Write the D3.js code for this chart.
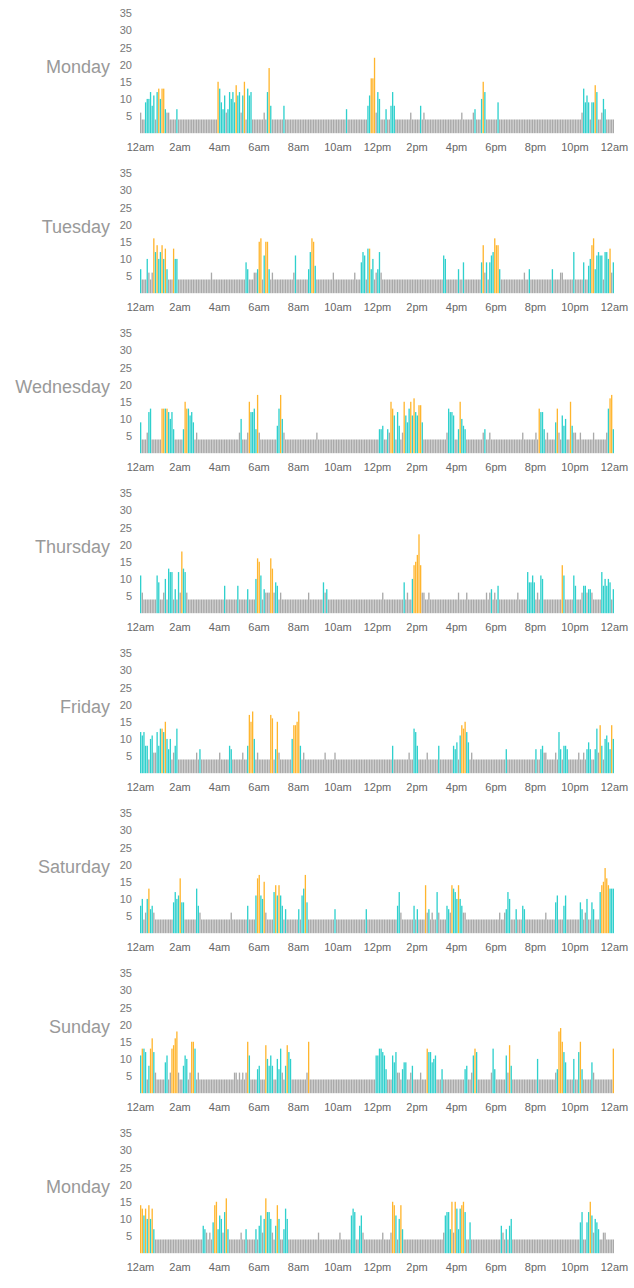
<!DOCTYPE html>
<html>
<head>
<meta charset="utf-8">
<script src="https://cdn.jsdelivr.net/npm/d3@7"></script>
<style>
  html, body { margin: 0; padding: 0; background: #fff; }
  svg { display: block; font-family: "Liberation Sans", Arial, sans-serif; }
</style>
</head>
<body>
<svg id="chart" width="634" height="1288"></svg>
<script>
// ---------- data ----------
const dayNames = ["Monday", "Tuesday", "Wednesday", "Thursday", "Friday", "Saturday", "Sunday", "Monday"];
const hourTickLabels = ["12am", "2am", "4am", "6am", "8am", "10am", "12pm", "2pm", "4pm", "6pm", "8pm", "10pm", "12am"];
const hourTickValues = [0, 2, 4, 6, 8, 10, 12, 14, 16, 18, 20, 22, 24];
const yTickValues = [5, 10, 15, 20, 25, 30, 35];
const slotsPerDay = 288;          // 5-minute slots
const restLevel = 4;              // level of the plain grey bars
// spikes: [slot, value, kind]  kind: g = grey, c = cyan, o = orange
const mondaySpikes = [[0,6,'g'],[3,9,'c'],[4,10,'c'],[5,10,'c'],[6,12,'c'],[7,8,'c'],[8,11,'c'],[10,12,'c'],[11,13,'o'],[12,10,'c'],[13,13,'o'],[14,13,'o'],[15,7,'c'],[16,6,'g'],[17,6,'g'],[22,7,'c'],
[47,15,'o'],[48,13,'c'],[49,9,'c'],[50,7,'c'],[51,11,'c'],[52,6,'g'],[53,7,'c'],[54,12,'c'],[55,10,'c'],[56,12,'c'],[57,9,'c'],[58,14,'o'],[59,11,'c'],[60,12,'c'],[61,6,'g'],[62,11,'c'],[63,15,'o'],[65,13,'c'],[66,11,'c'],[67,12,'c'],
[75,6,'g'],[77,12,'c'],[78,19,'o'],[79,8,'c'],[87,8,'c'],
[125,7,'c'],[138,8,'c'],[139,11,'c'],[140,16,'o'],[141,16,'o'],[142,22,'o'],[143,6,'g'],[144,12,'c'],[145,10,'c'],[149,7,'c'],[152,8,'c'],[153,12,'c'],[154,8,'c'],[164,6,'g'],[170,8,'c'],[172,6,'g'],[195,6,'g'],[202,6,'g'],[203,7,'c'],[207,10,'c'],[208,15,'o'],[209,12,'c'],[217,9,'c'],
[268,6,'g'],[269,13,'c'],[270,9,'c'],[271,11,'c'],[272,9,'c'],[274,9,'c'],[275,9,'c'],[276,14,'o'],[277,12,'c'],[280,6,'g'],[281,10,'c'],[282,7,'c']];
const tuesdaySpikes = [[0,7,'c'],[4,10,'c'],[5,6,'g'],[7,6,'g'],[8,16,'o'],[9,12,'c'],[10,14,'o'],[11,10,'c'],[12,12,'c'],[13,14,'o'],[14,10,'c'],[15,13,'o'],[16,7,'c'],[20,13,'o'],[21,10,'c'],[22,10,'c'],[43,6,'g'],
[64,9,'c'],[65,7,'c'],[69,6,'g'],[70,6,'g'],[71,7,'c'],[72,15,'o'],[73,16,'o'],[75,11,'c'],[76,15,'o'],[77,15,'o'],[78,7,'c'],[80,6,'g'],[93,6,'g'],[94,11,'c'],[102,7,'c'],[103,12,'c'],[104,16,'o'],[105,15,'o'],[106,8,'c'],[117,6,'g'],[130,6,'g'],[134,9,'c'],[135,12,'c'],[136,11,'c'],[138,13,'c'],[139,13,'o'],[140,7,'c'],[141,10,'c'],[143,6,'g'],[144,7,'c'],[145,12,'c'],[146,6,'g'],
[184,11,'c'],[185,10,'c'],[193,7,'c'],[196,9,'c'],[207,9,'c'],[208,14,'o'],[209,6,'g'],[210,9,'c'],[212,9,'c'],[213,11,'c'],[214,12,'c'],[215,16,'o'],[216,14,'o'],[217,14,'o'],[218,7,'c'],[233,6,'g'],[236,7,'c'],[250,7,'c'],[255,6,'g'],[256,6,'g'],[263,12,'c'],[269,9,'c'],[272,8,'c'],[273,10,'c'],[274,14,'o'],[275,16,'o'],[276,7,'c'],[277,11,'c'],[278,12,'c'],[279,11,'c'],[280,11,'c'],[282,12,'c'],[283,12,'c'],[284,10,'c'],[285,13,'o'],[286,6,'g'],[287,9,'c']];
const wednesdaySpikes = [[0,9,'c'],[4,6,'g'],[5,12,'c'],[6,13,'c'],[13,13,'o'],[14,13,'o'],[15,13,'c'],[16,13,'o'],[17,12,'c'],[18,10,'c'],[19,12,'c'],[20,7,'c'],[26,7,'c'],[27,15,'o'],[28,13,'o'],[29,13,'c'],[30,11,'c'],[31,12,'c'],[32,9,'c'],[34,6,'g'],
[60,6,'g'],[61,10,'c'],[65,6,'g'],[66,15,'o'],[67,12,'c'],[68,12,'c'],[69,13,'c'],[70,7,'c'],[71,17,'o'],[72,6,'g'],[83,8,'c'],[84,13,'c'],[85,17,'o'],[86,10,'c'],[87,6,'g'],[107,6,'g'],
[145,7,'c'],[146,7,'c'],[147,8,'c'],[150,7,'c'],[151,6,'g'],[152,15,'o'],[153,13,'o'],[154,11,'c'],[156,12,'c'],[157,8,'c'],[159,6,'g'],[160,15,'o'],[161,11,'c'],[162,9,'c'],[163,13,'c'],[164,15,'o'],[165,11,'c'],[166,16,'o'],[167,12,'c'],[168,11,'c'],[169,14,'o'],[170,14,'o'],[171,9,'c'],
[186,6,'g'],[187,13,'c'],[188,12,'c'],[189,12,'c'],[190,11,'c'],[193,7,'c'],[194,15,'o'],[195,10,'c'],[196,8,'c'],[197,7,'c'],[208,6,'g'],[209,7,'c'],[212,6,'g'],[232,6,'g'],[240,6,'g'],[242,13,'o'],[243,12,'c'],[244,12,'c'],[245,7,'c'],[247,6,'g'],[252,9,'c'],[253,13,'o'],[254,6,'g'],[256,11,'c'],[257,8,'c'],[258,10,'c'],[261,15,'o'],[262,8,'c'],[263,6,'g'],[264,6,'g'],[267,6,'g'],[275,6,'g'],[283,6,'g'],[284,13,'c'],[285,16,'o'],[286,17,'o'],[287,7,'c']];
const thursdaySpikes = [[0,11,'c'],[1,6,'g'],[10,11,'c'],[11,9,'c'],[14,6,'g'],[15,10,'c'],[17,13,'c'],[18,12,'c'],[19,12,'c'],[21,7,'c'],[23,12,'c'],[24,6,'g'],[25,18,'o'],[26,13,'c'],[27,12,'c'],[28,6,'g'],
[51,8,'c'],[59,8,'c'],[65,7,'c'],[70,10,'c'],[71,16,'o'],[72,15,'o'],[73,11,'c'],[75,7,'c'],[76,6,'g'],[77,6,'g'],[78,6,'g'],[79,16,'o'],[80,13,'o'],[81,6,'g'],[82,9,'c'],[83,8,'c'],[85,6,'g'],[102,6,'g'],[111,9,'c'],[112,6,'g'],[113,7,'c'],[147,6,'g'],
[160,9,'c'],[162,6,'g'],[165,10,'c'],[166,14,'o'],[167,15,'o'],[168,17,'o'],[169,23,'o'],[170,14,'o'],[171,6,'g'],[172,6,'g'],[175,6,'g'],[193,6,'g'],[198,6,'g'],[210,6,'g'],[212,6,'g'],[213,7,'c'],[215,6,'g'],[217,8,'c'],[229,6,'g'],
[235,12,'c'],[236,9,'c'],[237,9,'c'],[238,11,'c'],[239,9,'c'],[241,6,'g'],[243,11,'c'],[244,10,'c'],[256,14,'o'],[257,11,'c'],[263,11,'c'],[264,8,'c'],[268,6,'g'],[269,8,'c'],[270,8,'c'],[271,6,'g'],[272,7,'c'],[273,7,'c'],[274,6,'g'],[280,12,'c'],[281,8,'c'],[282,10,'c'],[283,8,'c'],[284,10,'c'],[285,9,'c'],[287,7,'c']];
const fridaySpikes = [[0,12,'c'],[1,11,'c'],[2,12,'c'],[3,8,'c'],[4,8,'c'],[6,10,'c'],[7,11,'c'],[8,6,'g'],[9,6,'g'],[10,12,'c'],[11,8,'c'],[12,13,'c'],[13,13,'o'],[14,12,'c'],[15,15,'o'],[16,10,'c'],[17,7,'c'],[18,10,'c'],[20,6,'g'],[21,8,'c'],[22,13,'c'],[34,6,'g'],[36,7,'c'],[48,6,'g'],[54,8,'c'],[55,7,'c'],[62,6,'g'],
[65,8,'c'],[66,17,'o'],[67,15,'o'],[68,18,'o'],[69,10,'c'],[71,6,'g'],[79,17,'o'],[80,16,'o'],[82,7,'c'],[83,15,'o'],[84,6,'g'],[92,10,'c'],[93,14,'o'],[94,14,'o'],[95,15,'o'],[96,18,'o'],[97,8,'c'],[99,6,'g'],[112,6,'g'],[118,6,'g'],
[153,8,'c'],[163,6,'g'],[166,13,'c'],[167,12,'c'],[168,8,'c'],[174,6,'g'],[181,8,'c'],[190,8,'c'],[191,7,'c'],[192,9,'c'],[194,11,'c'],[195,14,'o'],[196,13,'o'],[197,15,'o'],[198,12,'c'],[199,9,'c'],[201,6,'g'],[222,7,'c'],
[240,7,'c'],[243,7,'c'],[244,8,'c'],[245,6,'g'],[246,6,'g'],[252,6,'g'],[254,12,'c'],[255,7,'c'],[257,8,'c'],[258,8,'c'],[259,7,'c'],[266,6,'g'],[269,6,'g'],[271,7,'c'],[272,9,'c'],[273,7,'c'],[276,7,'c'],[277,13,'c'],[278,6,'g'],[279,14,'o'],[280,8,'c'],[282,10,'c'],[283,11,'c'],[284,9,'c'],[285,7,'c'],[286,14,'o'],[287,10,'c']];
const saturdaySpikes = [[0,8,'c'],[1,10,'c'],[3,6,'g'],[4,10,'c'],[5,13,'o'],[6,7,'c'],[7,8,'c'],[8,6,'g'],[20,9,'c'],[21,12,'c'],[22,10,'c'],[23,11,'c'],[24,16,'o'],[25,9,'c'],[26,9,'c'],[34,13,'c'],[35,8,'c'],[36,6,'g'],[55,6,'g'],
[65,8,'c'],[70,11,'c'],[71,16,'o'],[72,17,'o'],[73,11,'c'],[74,10,'c'],[75,15,'o'],[76,6,'g'],[81,12,'c'],[82,14,'o'],[83,11,'c'],[84,14,'o'],[85,11,'c'],[86,8,'c'],[88,7,'c'],[96,7,'c'],[98,11,'c'],[99,13,'c'],[100,17,'o'],[101,9,'c'],[118,7,'c'],[137,7,'c'],
[156,8,'c'],[157,12,'c'],[158,6,'g'],[166,8,'c'],[168,7,'c'],[173,14,'o'],[174,6,'g'],[175,7,'c'],[177,6,'g'],[180,12,'c'],[181,6,'g'],[186,8,'c'],[187,7,'c'],[188,6,'g'],[189,14,'o'],[190,13,'c'],[191,12,'c'],[192,10,'c'],[193,14,'o'],[194,10,'c'],[195,8,'c'],[196,6,'g'],[197,6,'g'],
[218,6,'g'],[221,6,'g'],[222,7,'c'],[223,12,'c'],[224,10,'c'],[228,7,'c'],[232,8,'c'],[233,7,'c'],[246,6,'g'],[252,9,'c'],[253,11,'c'],[257,8,'c'],[258,11,'c'],[267,9,'c'],[268,7,'c'],[270,6,'g'],[271,10,'c'],[274,9,'c'],[275,7,'c'],[279,12,'c'],[280,14,'o'],[281,15,'o'],[282,19,'o'],[283,16,'o'],[284,14,'o'],[285,13,'c'],[286,13,'c'],[287,13,'c']];
const sundaySpikes = [[0,11,'c'],[1,13,'o'],[2,13,'c'],[3,12,'c'],[5,8,'c'],[6,13,'o'],[7,16,'o'],[8,12,'c'],[9,6,'g'],[15,9,'c'],[16,11,'c'],[18,6,'g'],[19,13,'o'],[20,14,'o'],[21,16,'o'],[22,18,'o'],[23,6,'g'],[26,8,'c'],[27,11,'c'],[28,10,'c'],[30,6,'g'],[31,15,'o'],[32,15,'o'],[33,13,'c'],[35,6,'g'],
[57,6,'g'],[58,6,'g'],[60,6,'g'],[62,6,'g'],[64,6,'g'],[65,15,'o'],[66,11,'c'],[71,7,'c'],[72,8,'c'],[76,14,'o'],[77,10,'c'],[78,8,'c'],[79,11,'c'],[80,8,'c'],[83,10,'c'],[84,7,'c'],[85,13,'c'],[86,6,'g'],[88,8,'c'],[89,14,'o'],[90,12,'c'],[91,10,'c'],[101,6,'g'],[102,15,'o'],
[143,11,'c'],[144,11,'c'],[145,13,'c'],[146,13,'c'],[147,12,'c'],[148,11,'c'],[149,7,'c'],[153,11,'c'],[154,9,'c'],[155,12,'c'],[156,6,'g'],[157,6,'g'],[159,7,'c'],[160,9,'c'],[161,9,'c'],[164,6,'g'],[165,8,'c'],[170,6,'g'],[174,13,'o'],[175,12,'c'],[176,12,'c'],[177,9,'c'],[178,10,'c'],[179,11,'c'],[183,7,'c'],
[197,7,'c'],[198,8,'c'],[201,6,'g'],[202,11,'c'],[203,13,'o'],[204,12,'c'],[213,6,'g'],[214,13,'c'],[215,7,'c'],[222,11,'c'],[223,6,'g'],[224,14,'o'],[225,8,'c'],[241,10,'c'],[252,6,'g'],[253,7,'c'],[254,18,'o'],[255,19,'o'],[256,15,'o'],[257,12,'c'],[258,9,'c'],[263,10,'c'],[266,12,'c'],[267,15,'o'],[268,7,'c'],[274,9,'c'],[275,6,'g'],[287,13,'o']];
const monday2Spikes = [[0,14,'o'],[1,13,'o'],[2,11,'c'],[3,13,'o'],[4,10,'c'],[5,14,'o'],[6,10,'c'],[7,13,'o'],[8,7,'c'],
[38,8,'c'],[39,7,'c'],[40,6,'g'],[42,6,'g'],[44,9,'c'],[45,14,'o'],[46,15,'o'],[47,7,'c'],[48,11,'c'],[49,10,'c'],[50,6,'g'],[51,12,'c'],[52,16,'o'],[53,7,'c'],[61,6,'g'],[64,7,'c'],[70,7,'c'],[72,8,'c'],[73,11,'c'],[74,6,'g'],[75,10,'c'],[76,16,'o'],[77,12,'c'],[78,12,'c'],[79,10,'c'],[80,6,'g'],[82,8,'c'],[83,14,'o'],[84,10,'c'],[87,7,'c'],[88,13,'c'],[89,10,'c'],
[108,6,'g'],[121,6,'g'],[128,11,'c'],[129,13,'c'],[130,12,'c'],[133,8,'c'],[134,11,'c'],[135,6,'g'],[147,6,'g'],[152,6,'g'],[153,15,'o'],[154,14,'o'],[155,11,'c'],[157,10,'c'],[158,14,'o'],[159,7,'c'],
[184,6,'g'],[185,11,'c'],[186,12,'c'],[187,12,'c'],[188,7,'c'],[189,15,'o'],[190,6,'g'],[191,15,'o'],[192,13,'c'],[193,7,'c'],[194,13,'c'],[195,14,'o'],[196,15,'o'],[197,12,'c'],[200,9,'c'],[219,8,'c'],[220,6,'g'],[222,7,'c'],[224,8,'c'],[225,10,'c'],
[267,9,'c'],[268,12,'c'],[271,9,'c'],[272,12,'c'],[273,15,'o'],[274,11,'c'],[275,6,'g'],[276,10,'c'],[277,9,'c'],[278,7,'c'],[281,6,'g'],[282,6,'g']];
const spikesByDay = [mondaySpikes, tuesdaySpikes, wednesdaySpikes, thursdaySpikes, fridaySpikes, saturdaySpikes, sundaySpikes, monday2Spikes];
const kindColors = { g: "#a9a9a9", c: "#2fd0cd", o: "#ffb52e" };

// ---------- layout ----------
const svg = d3.select("#chart");
const panelH = 160;
const x = d3.scaleBand().domain(d3.range(slotsPerDay)).range([140, 614]).paddingInner(0.2).paddingOuter(0);
const xHours = d3.scaleLinear().domain([0, 24]).range([140, 614]);
const y = d3.scaleLinear().domain([0, 35]).range([133.2, 13.2]);

dayNames.forEach((name, i) => {
  const g = svg.append("g").attr("transform", `translate(0,${i * panelH})`);

  const bars = d3.range(slotsPerDay).map(s => ({ slot: s, value: restLevel, kind: "g" }));
  spikesByDay[i].forEach(([s, v, k]) => { bars[s] = { slot: s, value: v, kind: k }; });

  g.append("g").selectAll("rect").data(bars).join("rect")
    .attr("x", d => x(d.slot))
    .attr("width", x.bandwidth())
    .attr("y", d => y(d.value))
    .attr("height", d => y(0) - y(d.value))
    .attr("fill", d => kindColors[d.kind]);

  // y axis
  const ya = g.append("g").attr("transform", "translate(140,0)")
    .call(d3.axisLeft(y).tickValues(yTickValues).tickSize(0).tickPadding(8));
  ya.select(".domain").remove();
  ya.selectAll("text").attr("font-size", 11).attr("fill", "#777").attr("font-family", "Liberation Sans, Arial, sans-serif");

  // x axis
  const xa = g.append("g").attr("transform", `translate(0,${y(0)})`)
    .call(d3.axisBottom(xHours).tickValues(hourTickValues).tickSize(0).tickPadding(10)
      .tickFormat((d, j) => hourTickLabels[j]));
  xa.select(".domain").remove();
  xa.selectAll("text").attr("font-size", 11).attr("fill", "#666").attr("font-family", "Liberation Sans, Arial, sans-serif");

  // day label
  g.append("text")
    .attr("x", 110).attr("y", 73)
    .attr("text-anchor", "end")
    .attr("font-size", 18)
    .attr("fill", "#999")
    .text(name);
});
</script>
</body>
</html>
